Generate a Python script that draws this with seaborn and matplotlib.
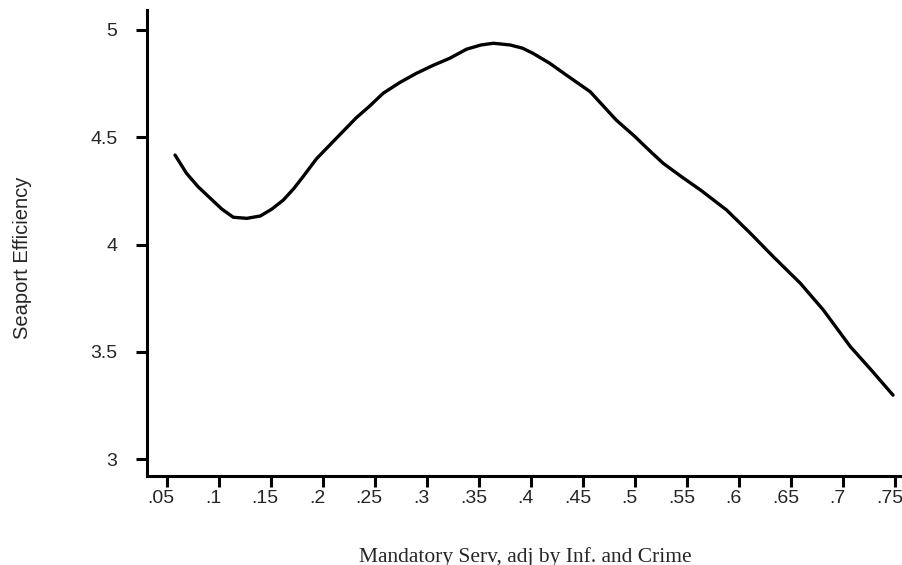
import pandas as pd
import seaborn as sns
import matplotlib.pyplot as plt
from matplotlib.transforms import ScaledTranslation

# values
mandatory_serv = [0.058, 0.069, 0.080, 0.092, 0.103, 0.114, 0.127, 0.140, 0.151, 0.162,
                  0.172, 0.181, 0.194, 0.208, 0.220, 0.232, 0.245, 0.258, 0.274, 0.290,
                  0.306, 0.322, 0.338, 0.352, 0.364, 0.380, 0.392, 0.402, 0.418, 0.434,
                  0.457, 0.482, 0.500, 0.515, 0.527, 0.545, 0.563, 0.588, 0.611, 0.633,
                  0.659, 0.681, 0.707, 0.728, 0.748]
seaport_eff = [4.417, 4.332, 4.270, 4.215, 4.165, 4.127, 4.122, 4.133, 4.165, 4.207,
               4.260, 4.316, 4.400, 4.470, 4.530, 4.590, 4.645, 4.705, 4.755, 4.798,
               4.835, 4.868, 4.910, 4.930, 4.938, 4.930, 4.915, 4.891, 4.845, 4.790,
               4.712, 4.580, 4.503, 4.433, 4.379, 4.315, 4.254, 4.161, 4.052, 3.943,
               3.819, 3.695, 3.524, 3.410, 3.298]

xticks = [0.05, 0.1, 0.15, 0.2, 0.25, 0.3, 0.35, 0.4, 0.45, 0.5, 0.55, 0.6, 0.65, 0.7, 0.75]
xtick_labels = [".05", ".1", ".15", ".2", ".25", ".3", ".35", ".4", ".45", ".5",
                ".55", ".6", ".65", ".7", ".75"]
yticks = [3, 3.5, 4, 4.5, 5]
ytick_labels = ["3", "3.5", "4", "4.5", "5"]

df = pd.DataFrame({"x": mandatory_serv, "y": seaport_eff})

sns.set_style("ticks")
plt.rcParams["font.family"] = ["Liberation Sans", "DejaVu Sans"]

fig = plt.figure(figsize=(9.03, 5.65), dpi=100)
ax = fig.add_axes([0.1625, 0.1575, 0.8375, 0.8248])

sns.lineplot(data=df, x="x", y="y", color="black", linewidth=2.4, estimator=None, ax=ax)

ax.set_xlim(0.0308, 0.7576)
ax.set_ylim(2.921, 5.093)
ax.set_xticks(xticks)
ax.set_xticklabels(xtick_labels, fontsize=14)
ax.set_yticks(yticks)
ax.set_yticklabels(ytick_labels, fontsize=14)
ax.tick_params(axis="both", direction="out", length=8, width=2.2, color="black")
ax.tick_params(axis="x", pad=2)
ax.tick_params(axis="y", pad=13)

# labels in the original sit a little left of their ticks
shift = ScaledTranslation(-4 / 72, 0, fig.dpi_scale_trans)
for lbl in ax.get_xticklabels():
    lbl.set_transform(lbl.get_transform() + shift)

for side in ["top", "right"]:
    ax.spines[side].set_visible(False)
for side in ["left", "bottom"]:
    ax.spines[side].set_linewidth(2.2)
    ax.spines[side].set_color("black")

ax.set_xlabel("Mandatory Serv, adj by Inf. and Crime", fontsize=15.5,
              family=["Liberation Serif", "DejaVu Serif"])
ax.xaxis.set_label_coords(0.5, -0.152)
ax.set_ylabel("Seaport Efficiency", fontsize=14.5)
ax.yaxis.set_label_coords(-0.152, 0.468)

fig.savefig("out.png", dpi=100, facecolor="white")
